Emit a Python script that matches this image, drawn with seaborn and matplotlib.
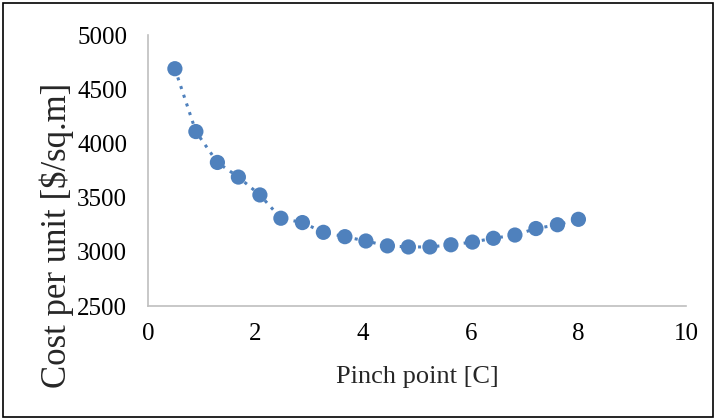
import matplotlib
matplotlib.use("Agg")
import matplotlib.pyplot as plt
import seaborn as sns
import pandas as pd
from matplotlib.patches import Rectangle

# values
pinch_point = [0.5, 0.89, 1.29, 1.68, 2.08, 2.47, 2.87, 3.26, 3.66, 4.05,
               4.45, 4.84, 5.24, 5.63, 6.03, 6.42, 6.82, 7.21, 7.61, 8.0]
cost_per_unit = [4690, 4110, 3825, 3690, 3525, 3310, 3270, 3180, 3140, 3100,
                 3055, 3045, 3045, 3065, 3090, 3125, 3155, 3215, 3250, 3300]

x_ticks = [0, 2, 4, 6, 8, 10]
y_ticks = [2500, 3000, 3500, 4000, 4500, 5000]

df = pd.DataFrame({"pinch": pinch_point, "cost": cost_per_unit})

sns.set_style("white")
plt.rcParams['font.family'] = ['Liberation Serif', 'DejaVu Serif']

fig = plt.figure(figsize=(7.17, 4.2), dpi=100)
ax = fig.add_axes([0.2064, 0.2714, 0.7504, 0.645])

color = "#4F81BD"
sns.lineplot(data=df, x="pinch", y="cost", ax=ax, color=color,
             linestyle=(0, (1, 2)), linewidth=2.2)
sns.scatterplot(data=df, x="pinch", y="cost", ax=ax, color=color,
                s=120, edgecolor="none", zorder=3)

ax.set_xlim(0, 10)
ax.set_ylim(2500, 5000)
ax.set_xticks(x_ticks)
ax.set_yticks(y_ticks)
ax.tick_params(axis="both", labelsize=18, length=0, colors="black")
ax.tick_params(axis="x", pad=12)
ax.tick_params(axis="y", pad=15)

ax.set_xlabel("Pinch point [C]", fontsize=19, va="center")
ax.set_ylabel("Cost per unit [$/sq.m]", fontsize=25, va="center")
ax.xaxis.set_label_coords(0.5, -0.262)
ax.yaxis.set_label_coords(-0.169, 0.26)

for side in ["top", "right"]:
    ax.spines[side].set_visible(False)
for side in ["left", "bottom"]:
    ax.spines[side].set_color("#BFBFBF")
    ax.spines[side].set_linewidth(1.2)

# outer frame around the whole chart
fig.patches.append(Rectangle((0.004, 0.006), 0.991, 0.986, transform=fig.transFigure,
                             fill=False, edgecolor="black", linewidth=1.2))

fig.savefig("out.png", dpi=100)
